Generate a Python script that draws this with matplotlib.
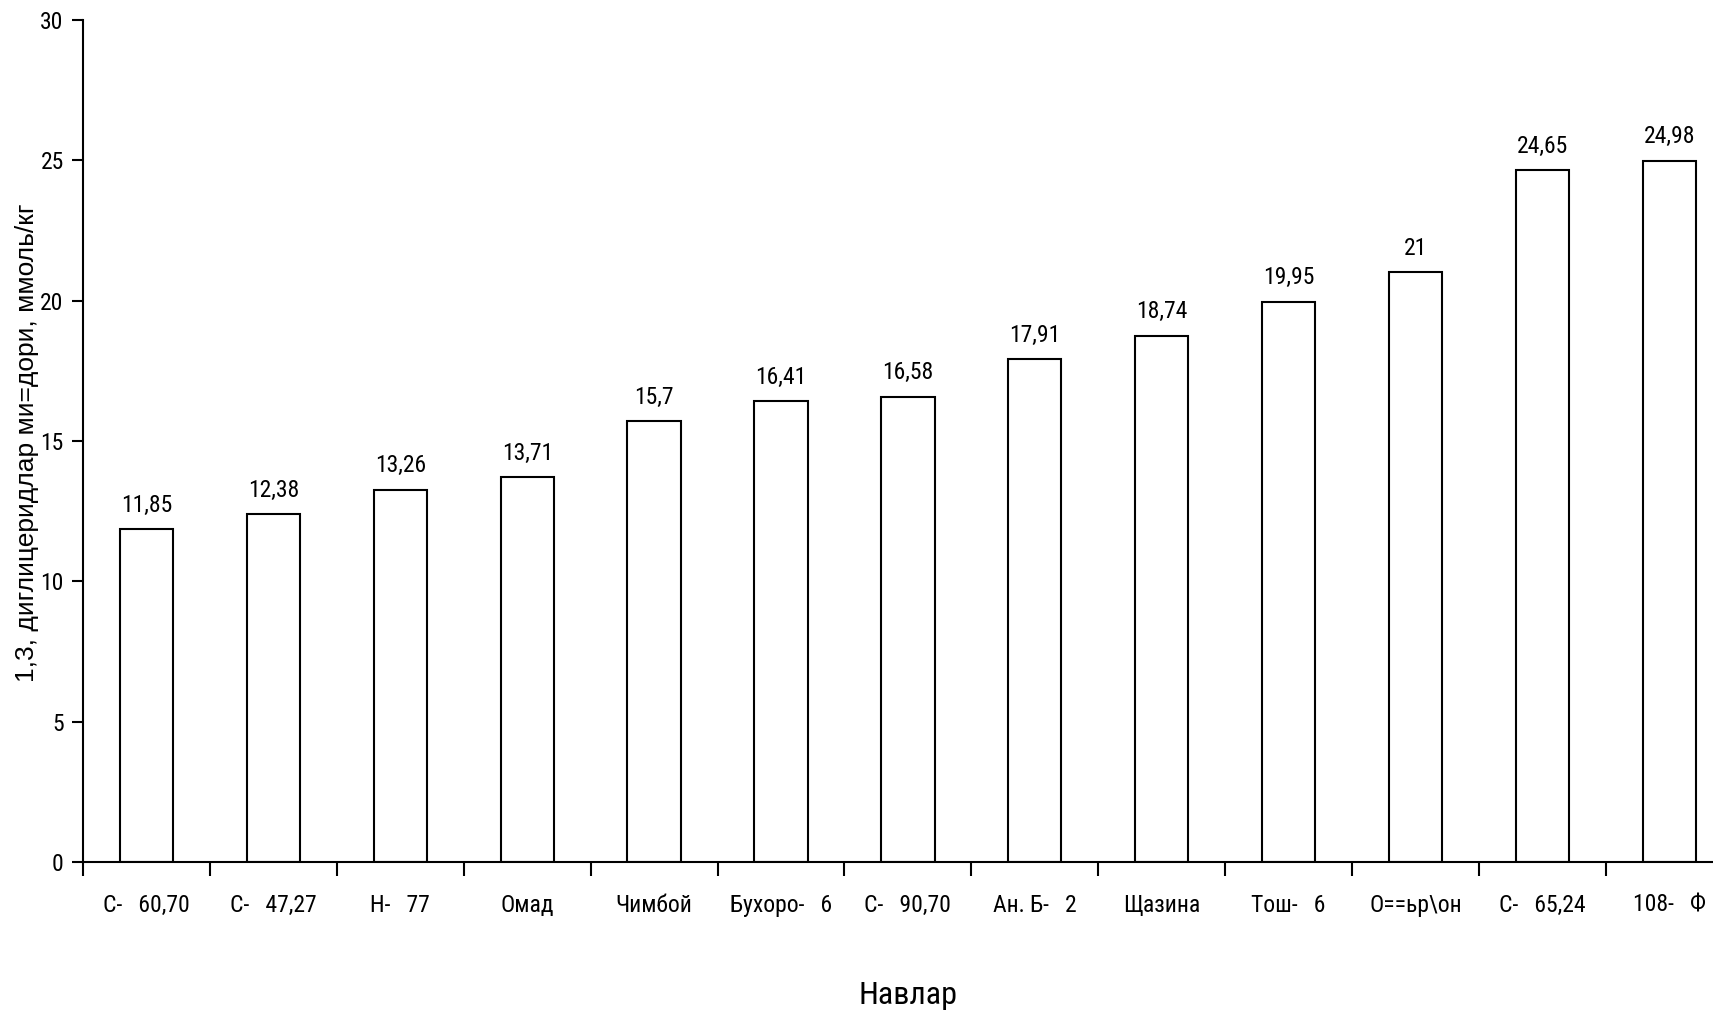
import matplotlib
matplotlib.use("Agg")
import matplotlib.pyplot as plt
import numpy as np

navlar = ["С-   60,70", "С-   47,27", "Н-   77", "Омад", "Чимбой", "Бухоро-   6",
          "С-   90,70", "Ан. Б-   2", "Щазина", "Тош-   6", "О==ьр\\он",
          "С-   65,24", "108-   Ф"]
qiymat = [11.85, 12.38, 13.26, 13.71, 15.7, 16.41, 16.58, 17.91, 18.74,
          19.95, 21, 24.65, 24.98]

plt.rcParams["font.family"] = ["Roboto Condensed", "DejaVu Sans"]

fig = plt.figure(figsize=(17.13, 10.11), dpi=100)
ax = fig.add_axes([0.0485, 0.1474, 0.963, 0.833])

x = np.arange(len(navlar))
bars = ax.bar(x, qiymat, width=0.42, color="white", edgecolor="black", linewidth=1.5)

for b, v in zip(bars, qiymat):
    ax.annotate(f"{v:g}".replace(".", ","), (b.get_x() + b.get_width() / 2, v),
                xytext=(0, 9), textcoords="offset points",
                ha="center", va="bottom", fontsize=17)

ax.set_xlim(-0.5, len(navlar) - 0.5)
ax.set_ylim(0, 30)
ax.set_yticks(range(0, 31, 5))
ax.tick_params(axis="y", labelsize=17, length=8, width=1.5, direction="out", pad=6)

ax.set_xticks(x)
ax.set_xticklabels(navlar)
ax.set_xticks(np.arange(len(navlar) + 1) - 0.5, minor=True)
ax.tick_params(axis="x", which="major", length=0, labelsize=17, pad=23)
ax.tick_params(axis="x", which="minor", length=10, width=1.5, direction="out")

for s in ["top", "right"]:
    ax.spines[s].set_visible(False)
for s in ["left", "bottom"]:
    ax.spines[s].set_linewidth(1.5)

# подпись оси X по центру области графика
pos = ax.get_position()
fig.text(pos.x0 + pos.width / 2, 0.015, "Навлар", ha="center", va="center", fontsize=23)

fig.text(0.016, 0.562, "1,3, диглицеридлар ми=дори, ммоль/кг", rotation=90,
         ha="center", va="center", fontsize=19, family=["Liberation Sans", "DejaVu Sans"])

fig.savefig("out.png", dpi=100)
